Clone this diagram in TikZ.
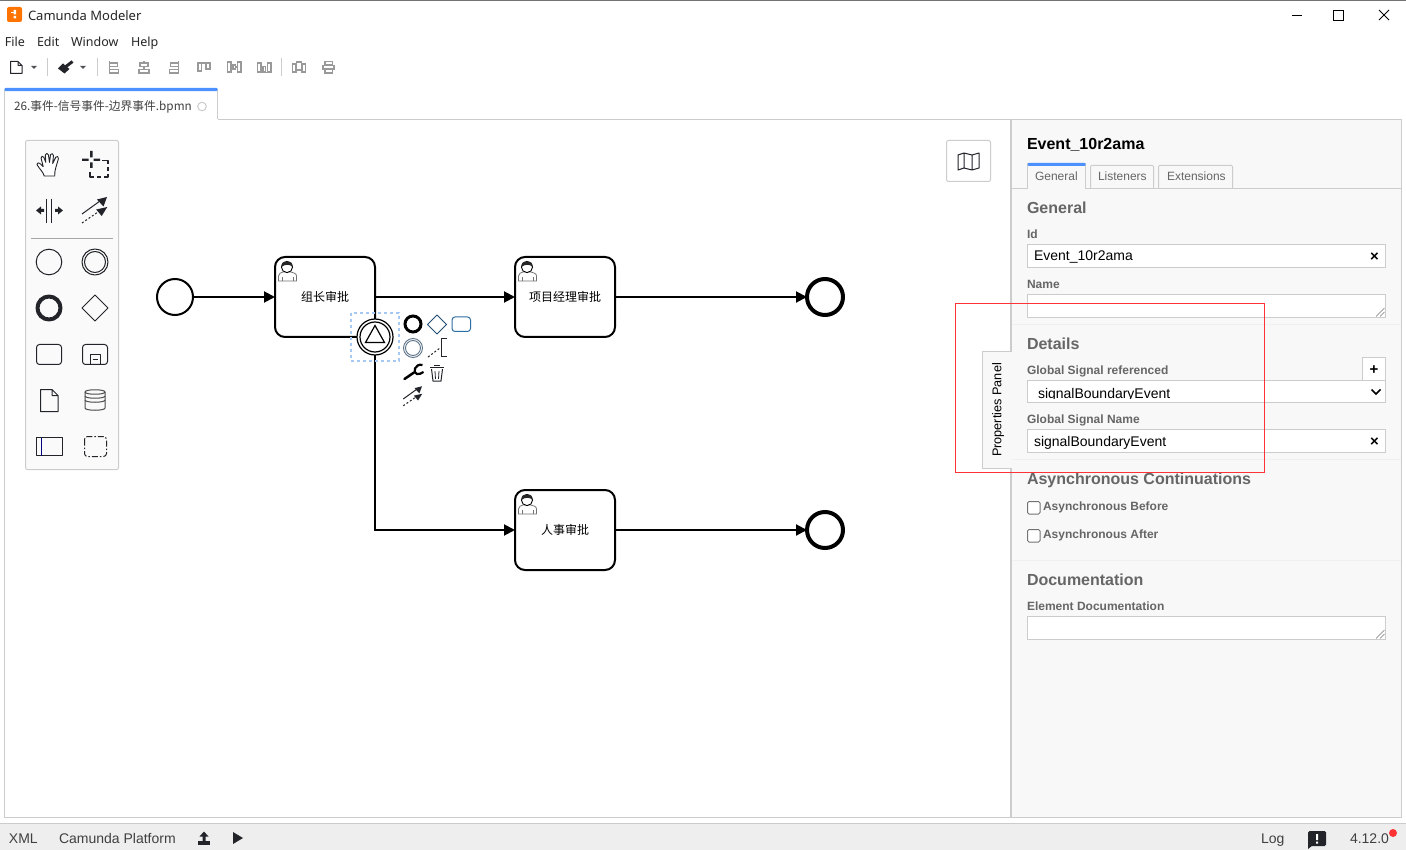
\documentclass[tikz,border=0pt]{standalone}
\usepackage{fontspec}
\setmainfont{Liberation Sans}
\newfontfamily\cjk{Noto Sans CJK SC}
\newfontfamily\ui{Noto Sans}
\usetikzlibrary{arrows.meta,shapes.geometric}
\definecolor{ink}{HTML}{22242A}
\definecolor{paneltxt}{HTML}{666666}
\definecolor{panelbg}{HTML}{F8F8F8}
\definecolor{line}{HTML}{CCCCCC}
\definecolor{tabblue}{HTML}{4D90FF}
\definecolor{selblue}{HTML}{A6C8F5}
\definecolor{alignc}{HTML}{999999}
\definecolor{barbg}{HTML}{EEEEEE}
\definecolor{padblue}{HTML}{2F6EA5}
\tikzset{
 lab/.style={anchor=base west,inner sep=0,outer sep=0},
 uitxt/.style={lab,font=\ui\fontsize{12.5}{13}\selectfont,text=black!85},
 head/.style={lab,font=\bfseries\fontsize{16}{16}\selectfont,text=paneltxt},
 flab/.style={lab,font=\bfseries\fontsize{12}{12}\selectfont,text=paneltxt},
 val/.style={lab,font=\fontsize{14}{14}\selectfont,text=black},
 tabt/.style={lab,font=\fontsize{12}{12}\selectfont,text=paneltxt},
 bar/.style={lab,font=\fontsize{14}{14}\selectfont,text=black!75},
 inbox/.style={draw=line,fill=white,line width=1pt},
 sep/.style={draw=black!6,line width=1pt},
 ic/.style={draw=ink,line width=1pt,line join=round},
 thinic/.style={draw=alignc,line width=1.3pt},
 startev/.style={circle,draw=black,fill=white,line width=2pt,minimum size=36pt,inner sep=0,outer sep=0},
 endev/.style={circle,draw=black,fill=white,line width=4pt,minimum size=36pt,inner sep=0,outer sep=0},
 bev/.style={circle,draw=black,fill=white,line width=1.2pt,minimum size=36pt,inner sep=0,outer sep=0},
 task/.style={rectangle,rounded corners=10pt,draw=black,fill=white,line width=2pt,minimum width=100pt,minimum height=80pt,inner sep=0,outer sep=0,font=\cjk\fontsize{12}{12}\selectfont},
 flow/.style={draw=black,line width=2pt,-{Triangle[length=11pt,width=11pt]}}
}
\newcommand{\usericon}[2]{%
 \begin{scope}[shift={(#1,#2)}]
  \draw[draw=black!55,line width=.8pt,fill=white] (3.5,23)--(3.5,18) .. controls (3.5,15) and (6,15) .. (8,14) -- (16,14) .. controls (18,15) and (21.5,15) .. (21.5,18) -- (21.5,23) -- cycle;
  \draw[draw=black!55,line width=.7pt] (7,23)--(7,19) (18,23)--(18,19);
  \draw[draw=black,fill=white,line width=.9pt] (12,9) circle[radius=5.6];
  \fill[black!85] (6.4,9) .. controls (5.5,1.5) and (18.5,1.5) .. (17.6,9) .. controls (15,6) and (10,6) .. (6.4,9) -- cycle;
 \end{scope}}
\newcommand{\connicon}[3]{%
 \begin{scope}[shift={(#1,#2)},scale=#3]
  \draw[ic] (-13,4)--(5,-9);
  \fill[ink] (12,-13)--(2,-10.5)--(8.5,-3.5)--cycle;
  \draw[ic,dash pattern=on 2pt off 2pt] (-13,13)--(3,2);
  \fill[ink] (12.3,-3)--(1.2,-.5)--(6.7,6)--cycle;
 \end{scope}}
\begin{document}
\begin{tikzpicture}[x=1pt,y=-1pt]
\useasboundingbox (0,0) rectangle (1406,850);
\fill[white] (0,0) rectangle (1406,850);
\draw[draw=black!55,line width=1pt] (0,.5)--(1406,.5);
% title bar
\fill[orange!90!red,rounded corners=2pt] (7,7) rectangle (22,22);
\fill[white] (13.5,10) rectangle (16,14.5) (13.5,16) rectangle (16,18.5);
\fill[white] (11,12) rectangle (13.5,13.5);
\node[lab,font=\ui\fontsize{13}{13}\selectfont,text=black!85] (title) at (28,21) {Camunda Modeler};
\draw[black,line width=1pt] (1292,15.5)--(1302,15.5);
\draw[black,line width=1pt] (1333.5,10.5) rectangle (1343.5,20.5);
\draw[black,line width=1pt] (1379,10)--(1389,20) (1389,10)--(1379,20);
% menu
\node[uitxt] (mFile) at (5,47) {File};
\node[uitxt] (mEdit) at (37,47) {Edit};
\node[uitxt] (mWindow) at (71,47) {Window};
\node[uitxt] (mHelp) at (131,47) {Help};
% toolbar
\draw[ink,line width=1pt,line join=round] (10.5,61.5)--(18,61.5)--(22,65.5)--(22,73.5)--(10.5,73.5)--cycle (18,61.5)--(18,65.5)--(22,65.5);
\fill[ink!80] (31,66)--(37,66)--(34,69)--cycle;
\draw[line,line width=1pt] (47.5,58)--(47.5,76) (97.5,58)--(97.5,76) (281.5,58)--(281.5,76);
\draw[ink,line width=3pt] (72.5,61.5)--(66,66.5);
\fill[ink] (63,63.5)--(69.5,69)--(64.5,73.5)--(58,68.5)--cycle;
\fill[ink!80] (80,66)--(86,66)--(83,69)--cycle;
% align icons
\draw[thinic] (109.5,61.5)--(109.5,74)
 (109.5,63)--(117.5,63)--(117.5,66.5)--(109.5,66.5) (109.5,69.5)--(118.5,69.5)--(118.5,73)--(109.5,73);
\draw[thinic] (140,63) rectangle (148,66.5) (139,69.5) rectangle (149,73) (144,61.5)--(144,63) (144,66.5)--(144,69.5);
\draw[thinic] (178.5,61.5)--(178.5,74)
 (178.5,63)--(170.5,63)--(170.5,66.5)--(178.5,66.5) (178.5,69.5)--(169.5,69.5)--(169.5,73)--(178.5,73);
\draw[thinic] (197.5,63)--(210.5,63) (198,63) rectangle (201.5,71) (206,63) rectangle (210,69);
\draw[thinic] (227.5,62) rectangle (231,72) (237.5,62) rectangle (241,72) (231,67)--(233,67) (235.5,67)--(237.5,67) (233,65) rectangle (235.5,69);
\draw[thinic] (257.5,63) rectangle (261,72) (267.5,63) rectangle (271,72) (263,66.5) rectangle (265.5,72) (257,72.5)--(271,72.5);
\draw[thinic] (292.5,64) rectangle (296,72) (302,64) rectangle (305.5,72) (296.5,62) rectangle (301.5,70);
\draw[thinic] (325,61.5) rectangle (332.5,65) (325,69.5) rectangle (332.5,73) (323,65.5) rectangle (334,69);
% tab
\draw[line,line width=1pt] (217.5,119.5)--(1011,119.5);
\draw[line,line width=1pt] (4.5,119.5)--(4.5,817.5)--(1011,817.5);
\draw[line,line width=1pt,fill=white] (4.5,119.5)--(4.5,90)--(217.5,90)--(217.5,119.5);
\fill[tabblue,rounded corners=1pt] (4.5,88) rectangle (217.5,91.2);
\fill[white] (5,118) rectangle (217,121);
\node[lab,font=\cjk\fontsize{11.75}{12}\selectfont,text=black!75] (tabname) at (14,110.5) {26.事件-信号事件-边界事件.bpmn};
\draw[line,line width=1pt] (202,106.5) circle[radius=4.3];
% palette
\draw[line,fill=black!2,line width=1pt,rounded corners=2pt] (25.5,140.5) rectangle (118.5,469.5);
% hand
\begin{scope}[shift={(49.5,164.5)},scale=1.05]
 \draw[ic,fill=white,line width=.9pt] (-5,11) .. controls (-6,7) and (-9,5) .. (-12,0) .. controls (-12.5,-2) and (-10,-2) .. (-8,0) -- (-6,2) -- (-8,-6) .. controls (-8.5,-8) and (-6,-8.5) .. (-5.5,-7) -- (-3.5,-2) -- (-4,-9) .. controls (-4,-11) and (-1,-11) .. (-1,-9) -- (0,-2) -- (1,-9.5) .. controls (1.5,-11) and (4,-10.5) .. (3.8,-8.5) -- (3,-1) -- (6,-7) .. controls (7,-8.5) and (9,-7.5) .. (8.5,-5.5) -- (6,3) .. controls (5,6) and (5,8) .. (5,11) -- cycle;
\end{scope}
% lasso
\fill[ink] (90,151) rectangle (92.5,157.5) (90,162.5) rectangle (92.5,168) (82,158.7) rectangle (88.5,161) (93.5,158.7) rectangle (100,161);
\draw[ic,line width=1.2pt] (102,160.5)--(108,160.5)--(108,164) (108,174)--(108,177)--(104,177) (94,177)--(90,177)--(90,172);
\draw[ic,line width=1.2pt] (108,167)--(108,171) (97,177)--(101,177);
% space
\draw[ic] (46.5,199)--(46.5,223) (51.5,199)--(51.5,223);
\fill[ink] (36,210.5)--(41,206.5)--(41,209)--(44,209)--(44,212)--(41,212)--(41,214.5)--cycle;
\fill[ink] (63,210.5)--(58,206.5)--(58,209)--(55,209)--(55,212)--(58,212)--(58,214.5)--cycle;
\connicon{95}{210}{1}
\draw[draw=black!35,line width=1pt] (31,238.5)--(113,238.5);
% events
\draw[ic] (49,262) circle[radius=12.8];
\draw[ic] (95,262) circle[radius=13] (95,262) circle[radius=10.5];
\draw[ic,line width=4pt] (49,308) circle[radius=11.5];
\draw[ic] (95,295)--(108,308)--(95,321)--(82,308)--cycle;
\draw[ic,rounded corners=3pt] (36.5,344.5) rectangle (61.5,364.5);
\draw[ic,rounded corners=3pt] (82.5,344.5) rectangle (107.5,364.5);
\draw[ic] (90,354.5) rectangle (100,364.5) (92.5,359.5)--(97.5,359.5);
\draw[ic] (40.5,389.5)--(52,389.5)--(58,395.5)--(58,411.5)--(40.5,411.5)--cycle (52,389.5)--(52,395.5)--(58,395.5);
\draw[ic,draw=black!70] (85,392) .. controls (85,389) and (105,389) .. (105,392) -- (105,408) .. controls (105,411) and (85,411) .. (85,408) -- cycle;
\draw[ic,draw=black!70] (85,392) .. controls (85,395) and (105,395) .. (105,392) (85,396) .. controls (85,399) and (105,399) .. (105,396) (85,400) .. controls (85,403) and (105,403) .. (105,400);
\draw[ic] (36.5,437.5) rectangle (62.5,455.5);
\draw[ic,line width=1.4pt,draw=blue!50!black] (41.5,437.5)--(41.5,455.5);
\draw[ic,rounded corners=3pt,dash pattern=on 6pt off 2pt on 1.5pt off 2pt] (84.5,436.5) rectangle (106.5,456.5);
% minimap button
\draw[line,fill=white,line width=1pt,rounded corners=2pt] (946.5,140.5) rectangle (990.5,181.5);
\draw[ic] (958,155)--(964,153)--(972,155)--(979,153)--(979,168)--(972,170)--(964,168)--(958,170)--cycle (964,153)--(964,168) (972,155)--(972,170);
% diagram
\node[startev] (start) at (175,297) {};
\node[task] (t1) at (325,297) {组长审批};
\node[task] (t2) at (565,297) {项目经理审批};
\node[task] (t3) at (565,530) {人事审批};
\node[endev] (e1) at (825,297) {};
\node[endev] (e2) at (825,530) {};
\usericon{275}{258}
\usericon{515}{258}
\usericon{515}{491}
\draw[flow] (start) -- (t1);
\draw[flow] (t1) -- (t2);
\draw[flow] (t2) -- (e1);
\draw[flow] (t3) -- (e2);
\node[bev] (be) at (375,337) {};
\draw[black,line width=1.2pt] (375,337) circle[radius=15];
\draw[black,line width=1.2pt,line join=miter] (375,325.5)--(384.5,342.5)--(365.5,342.5)--cycle;
\draw[flow] (be.south) |- (t3.west);
\draw[selblue,line width=1.5pt,dash pattern=on 3pt off 3pt] (351,313) rectangle (399,361);
% context pad
\draw[black,line width=3pt] (413,324) circle[radius=8];
\draw[padblue!70!black,line width=1pt,line join=round] (437,315)--(446.5,324.5)--(437,334)--(427.5,324.5)--cycle;
\draw[padblue,line width=1pt,rounded corners=3pt] (452,317) rectangle (470.5,331.5);
\draw[padblue!50!black!70,line width=.9pt] (413,348) circle[radius=9.5] (413,348) circle[radius=7.5];
\draw[ink,line width=1pt,dash pattern=on 2pt off 2pt] (428,357)--(440,348);
\draw[ink,line width=1pt] (447,338.5)--(441.5,338.5)--(441.5,357)--(447,357);
\draw[black,line width=2.5pt,line cap=round] (404.5,379)--(414,372.5);
\draw[black,line width=2.2pt] (422.5,365) .. controls (415,363) and (412,373) .. (417,374) .. controls (419,374.5) and (421,373.5) .. (423.5,372);
\draw[ink,line width=1pt] (431.5,369) -- (433,381)--(441,381)--(442.5,369);
\draw[ink,line width=1.5pt] (430,367.5)--(444,367.5) (434,365.5)--(440,365.5);
\draw[ink,line width=.8pt] (435,371)--(435.5,379) (439,371)--(438.5,379);
\connicon{413}{396}{.75}
% panel
\fill[panelbg] (1012,120) rectangle (1401,817);
\draw[line,line width=1pt] (1401.5,119.5)--(1401.5,817.5);
\draw[line,line width=1pt] (1011,119.5)--(1401,119.5) (1011,817.5)--(1401,817.5);
\draw[line,line width=2pt] (1011,120)--(1011,351) (1011,468)--(1011,817);
\node[lab,font=\bfseries\fontsize{16}{16}\selectfont,text=black] (pid) at (1027,150) {Event\_10r2ama};
% panel tabs
\draw[line,line width=1pt] (1012,188.5)--(1401,188.5);
\draw[line,fill=panelbg,line width=1pt] (1027.5,188.5)--(1027.5,164)--(1085.5,164)--(1085.5,188.5);
\fill[panelbg] (1028,187) rectangle (1085,190);
\fill[tabblue,rounded corners=1pt] (1027.5,163) rectangle (1085.5,166);
\draw[line,line width=1pt,rounded corners=1pt] (1090.5,188.5)--(1090.5,165.5)--(1153.5,165.5)--(1153.5,188.5);
\draw[line,line width=1pt,rounded corners=1pt] (1158.5,188.5)--(1158.5,165.5)--(1232.5,165.5)--(1232.5,188.5);
\node[tabt] (tg) at (1035,181) {General};
\node[tabt] (tl) at (1098,181) {Listeners};
\node[tabt] (te) at (1167,181) {Extensions};
% general
\node[head] (hg) at (1027,213.5) {General};
\node[flab] (lid) at (1027,238.5) {Id};
\draw[inbox] (1027.5,244.5) rectangle (1385.5,267.5);
\node[val] (vid) at (1034,261) {Event\_10r2ama};
\node[lab,font=\bfseries\fontsize{15}{15}\selectfont] (xid) at (1370,262) {×};
\node[flab] (lname) at (1027,288.5) {Name};
\draw[inbox] (1027.5,294.5) rectangle (1385.5,317.5);
\draw[black!55,line width=.6pt] (1376,316.5)--(1384.5,308) (1380,316.5)--(1384.5,312);
\draw[sep] (1012,324.5)--(1401,324.5);
% details
\node[head] (hd) at (1027,349) {Details};
\node[flab] (lgs) at (1027,374) {Global Signal referenced};
\draw[inbox] (1362.5,357.5) rectangle (1385.5,380.5);
\node[lab,font=\bfseries\fontsize{15}{15}\selectfont] (plus) at (1369.7,374.5) {+};
\draw[inbox] (1027.5,380.5) rectangle (1385.5,402.5);
\begin{scope}
 \clip (1030,381) rectangle (1360,398.3);
 \node[val] (vsel) at (1038,398) {signalBoundaryEvent};
\end{scope}
\draw[black,line width=1.6pt] (1371.5,389.5)--(1376,394)--(1380.5,389.5);
\node[flab] (lgn) at (1027,423) {Global Signal Name};
\draw[inbox] (1027.5,429.5) rectangle (1385.5,452.5);
\node[val] (vgn) at (1034,446) {signalBoundaryEvent};
\node[lab,font=\bfseries\fontsize{15}{15}\selectfont] (xgn) at (1370,446) {×};
\draw[sep] (1012,459.5)--(1401,459.5);
% async
\node[head] (ha) at (1027,484) {Asynchronous Continuations};
\draw[draw=black!55,fill=white,line width=1pt,rounded corners=1.5pt] (1027.5,501.5) rectangle (1040,514);
\node[flab] (la) at (1043,510) {Asynchronous Before};
\draw[draw=black!55,fill=white,line width=1pt,rounded corners=1.5pt] (1027.5,529.5) rectangle (1040,542);
\node[flab] (lb) at (1043,538) {Asynchronous After};
\draw[sep] (1012,560.5)--(1401,560.5);
% documentation
\node[head] (hdoc) at (1027,585) {Documentation};
\node[flab] (ldoc) at (1027,610) {Element Documentation};
\draw[inbox] (1027.5,616.5) rectangle (1385.5,639.5);
\draw[black!55,line width=.6pt] (1376,638.5)--(1384.5,630) (1380,638.5)--(1384.5,634);
% properties tab
\fill[panelbg] (982.5,351) rectangle (1012.5,468.5);
\draw[line,line width=1pt] (1012,351.5)--(982.5,351.5)--(982.5,468.5)--(1012,468.5);
\node[inner sep=0,outer sep=0,rotate=90,font=\fontsize{12.7}{13}\selectfont,text=black] (ptab) at (998,410) {Properties Panel};
% red rectangle
\draw[draw=red!80!white,line width=1pt] (955.5,303.5) rectangle (1264.5,472);
% status bar
\fill[barbg] (0,824) rectangle (1406,850);
\draw[line,line width=1pt] (0,823.5)--(1406,823.5);
\node[bar] (sxml) at (9,843) {XML};
\node[bar] (scp) at (59,843) {Camunda Platform};
\fill[ink] (198,841) rectangle (210,844.5);
\fill[ink] (204,831.5)--(208.5,836.5)--(205.5,836.5)--(205.5,841.5)--(202.5,841.5)--(202.5,836.5)--(199.5,836.5)--cycle;
\fill[ink] (233,832)--(243,838)--(233,844)--cycle;
\node[bar] (slog) at (1261,843) {Log};
\fill[ink,rounded corners=1.5pt] (1308,831) rectangle (1326,846);
\fill[ink] (1308,843)--(1308,849)--(1313,845)--cycle;
\fill[white] (1316,834) rectangle (1318,840) (1316,841.5) rectangle (1318,843.5);
\node[bar] (sver) at (1350,843) {4.12.0};
\fill[red!80!white] (1393,833) circle[radius=4];
\end{tikzpicture}
\end{document}
